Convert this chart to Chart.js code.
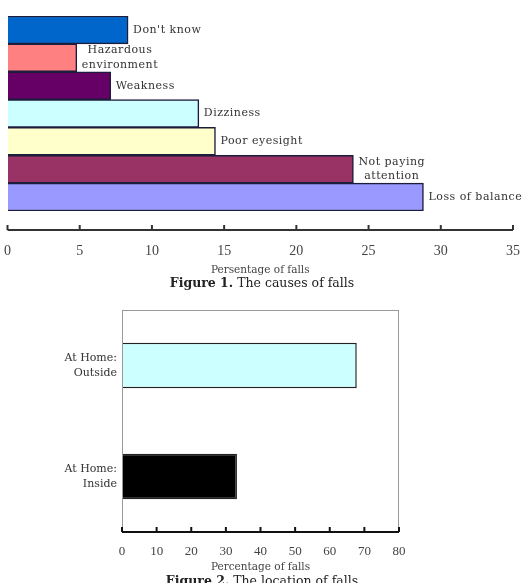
<!DOCTYPE html>
<html>
<head>
<meta charset="utf-8">
<script src="https://cdn.jsdelivr.net/npm/chart.js@4"></script>
<style>
  body { margin: 0; background: #fff; width: 524px; height: 583px; overflow: hidden; position: relative; }
  .box { position: absolute; left: 0; width: 524px; }
  .caption { position: absolute; left: 0; width: 524px; text-align: center; font: 12.5px "DejaVu Serif", serif; color: #222; line-height: 16px; }
  .caption b { font-weight: bold; }
</style>
</head>
<body>
<div class="box" style="top:0; height:277px;"><canvas id="causes"></canvas></div>
<div class="caption" style="top:275px;"><b>Figure 1.</b> The causes of falls</div>
<div class="box" style="top:290px; height:284px;"><canvas id="location"></canvas></div>
<div class="caption" style="top:573px;"><b>Figure 2.</b> The location of falls</div>
<script>
// Figure 1 data
const causeLabels = [["Don't know"], ['Hazardous', 'environment'], ['Weakness'], ['Dizziness'], ['Poor eyesight'], ['Not paying', 'attention'], ['Loss of balance']];
const causeValues = [8.35, 4.8, 7.15, 13.25, 14.4, 23.95, 28.8];
const causeColors = ['#0066cc', '#ff8080', '#660066', '#ccffff', '#ffffcc', '#993366', '#9999ff'];
const causeTickMax = 35;
const causeTickStep = 5;

// Figure 2 data
const placeLabels = [['At Home:', 'Outside'], ['At Home:', 'Inside']];
const placeValues = [67.8, 33.2];
const placeColors = ['#ccffff', '#000000'];
const placeTickMax = 80;
const placeTickStep = 10;

// axis line with little ticks pointing up, drawn a bit under the plot
const axisLine = {
    id: 'axisLine',
    afterDraw(chart, args, opts) {
        const ctx = chart.ctx;
        const area = chart.chartArea;
        const x = chart.scales.x;
        const y = area.bottom + (opts.offset || 0);
        ctx.save();
        if (opts.frame) {
            ctx.strokeStyle = '#999';
            ctx.lineWidth = 1;
            ctx.strokeRect(area.left + 0.5, area.top + 0.5, area.right - area.left - 1, area.bottom - area.top);
        }
        ctx.strokeStyle = opts.color || '#333';
        ctx.lineWidth = 2;
        ctx.beginPath();
        ctx.moveTo(area.left, y);
        ctx.lineTo(area.right, y);
        x.ticks.forEach(t => {
            const px = x.getPixelForValue(t.value);
            ctx.moveTo(px, y);
            ctx.lineTo(px, y - 5);
        });
        ctx.stroke();
        ctx.restore();
    }
};

// text at the end of each bar (figure 1)
const barEndLabels = {
    id: 'barEndLabels',
    afterDatasetsDraw(chart) {
        const ctx = chart.ctx;
        const meta = chart.getDatasetMeta(0);
        ctx.save();
        ctx.font = '11px "DejaVu Serif", serif';
        ctx.letterSpacing = '0.5px';
        ctx.fillStyle = '#333';
        ctx.textAlign = 'center';
        ctx.textBaseline = 'middle';
        meta.data.forEach((bar, i) => {
            const lines = causeLabels[i];
            const w = Math.max(...lines.map(l => ctx.measureText(l).width));
            const cx = bar.x + 5 + w / 2;
            const lh = 14.5;
            lines.forEach((l, j) => {
                ctx.fillText(l, cx, bar.y + (j - (lines.length - 1) / 2) * lh);
            });
        });
        ctx.restore();
    }
};

new Chart(document.getElementById('causes'), {
    type: 'bar',
    data: {
        labels: causeLabels.map(l => l.join(' ')),
        datasets: [{
            data: causeValues,
            backgroundColor: causeColors,
            borderColor: '#1c1c3c',
            borderWidth: 1.5,
            barPercentage: 1,
            categoryPercentage: 1
        }]
    },
    options: {
        indexAxis: 'y',
        responsive: true,
        maintainAspectRatio: false,
        animation: false,
        layout: { padding: { left: 7, right: 10, top: 16, bottom: 0 } },
        plugins: {
            legend: { display: false },
            tooltip: { enabled: false },
            axisLine: { offset: 19, color: '#333' }
        },
        scales: {
            y: { display: false },
            x: {
                min: 0,
                max: causeTickMax,
                ticks: { stepSize: causeTickStep, color: '#444', padding: 4, font: { family: '"Liberation Serif", serif', size: 14 } },
                grid: { display: true, drawOnChartArea: false, tickLength: 28, tickColor: 'rgba(0,0,0,0)' },
                border: { display: false },
                title: { display: true, text: 'Persentage of falls', color: '#444', padding: 0, font: { family: '"DejaVu Serif", serif', size: 10.5 } },
                afterFit(s) { s.height = 66; }
            }
        }
    },
    plugins: [axisLine, barEndLabels]
});

new Chart(document.getElementById('location'), {
    type: 'bar',
    data: {
        labels: placeLabels,
        datasets: [{
            data: placeValues,
            backgroundColor: placeColors,
            borderColor: '#222',
            borderWidth: 1.5,
            barPercentage: 0.41,
            categoryPercentage: 1
        }]
    },
    options: {
        indexAxis: 'y',
        responsive: true,
        maintainAspectRatio: false,
        animation: false,
        layout: { padding: { left: 0, right: 125, top: 20, bottom: 0 } },
        plugins: {
            legend: { display: false },
            tooltip: { enabled: false },
            axisLine: { offset: 0, color: '#111', frame: true }
        },
        scales: {
            y: {
                ticks: { color: '#333', padding: -3, font: { family: '"DejaVu Serif", serif', size: 11, lineHeight: 1.3 } },
                grid: { display: false },
                border: { display: false },
                afterFit(s) { s.width = 122; }
            },
            x: {
                min: 0,
                max: placeTickMax,
                ticks: { stepSize: placeTickStep, color: '#444', padding: 4, font: { family: '"Liberation Serif", serif', size: 13 } },
                grid: { display: false },
                border: { display: false },
                title: { display: true, text: 'Percentage of falls', color: '#444', padding: 0, font: { family: '"DejaVu Serif", serif', size: 10.5 } },
                afterFit(s) { s.height = 42; }
            }
        }
    },
    plugins: [axisLine]
});
</script>
</body>
</html>
